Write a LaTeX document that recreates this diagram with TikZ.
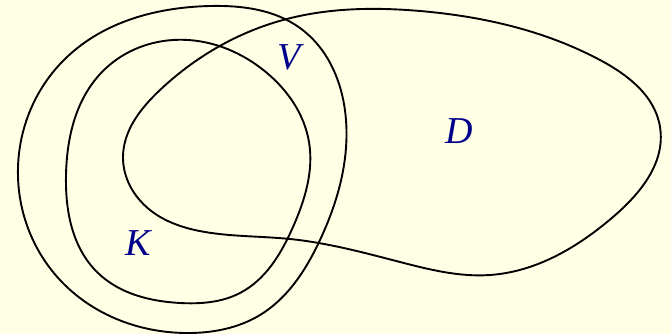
\documentclass[tikz,border=0pt]{standalone}
\usepackage{fontspec}
\setmainfont{Liberation Serif}
\usetikzlibrary{hobby}
\definecolor{bg}{HTML}{FFFFE6}
\definecolor{lab}{HTML}{00008B}
\begin{document}
\begin{tikzpicture}[x=1pt,y=-1pt,
  curve/.style={line width=1.9pt,black,use Hobby shortcut,closed=true},
  lbl/.style={text=lab,font=\fontsize{38}{40}\selectfont\itshape,inner sep=0pt}]
\fill[bg] (0,0) rectangle (671,334);
\useasboundingbox (0,0) rectangle (671,334);
% outer V
\draw[curve] (210,6) .. (300,28) .. (346,120) .. (320,240) .. (260,315) .. (190,333) .. (60,280) .. (18,177) .. (67,57) .. (210,6);
% inner K
\draw[curve] (173,40) .. (267,73) .. (309,142) .. (293,227) .. (240,293) .. (180,303) .. (97,272) .. (66,175) .. (102,72) .. (173,40);
% D
\draw[curve] (123,157) .. (160,90) .. (283,20) .. (420,11) .. (600,60) .. (660,127) .. (613,217) .. (490,275) .. (400,262) .. (290,239) .. (205,232) .. (150,210) .. (123,157);
\node[lbl] (V) at (289,57) {V};
\node[lbl] (K) at (138,243) {K};
\node[lbl] (D) at (459,131) {D};
\end{tikzpicture}
\end{document}
